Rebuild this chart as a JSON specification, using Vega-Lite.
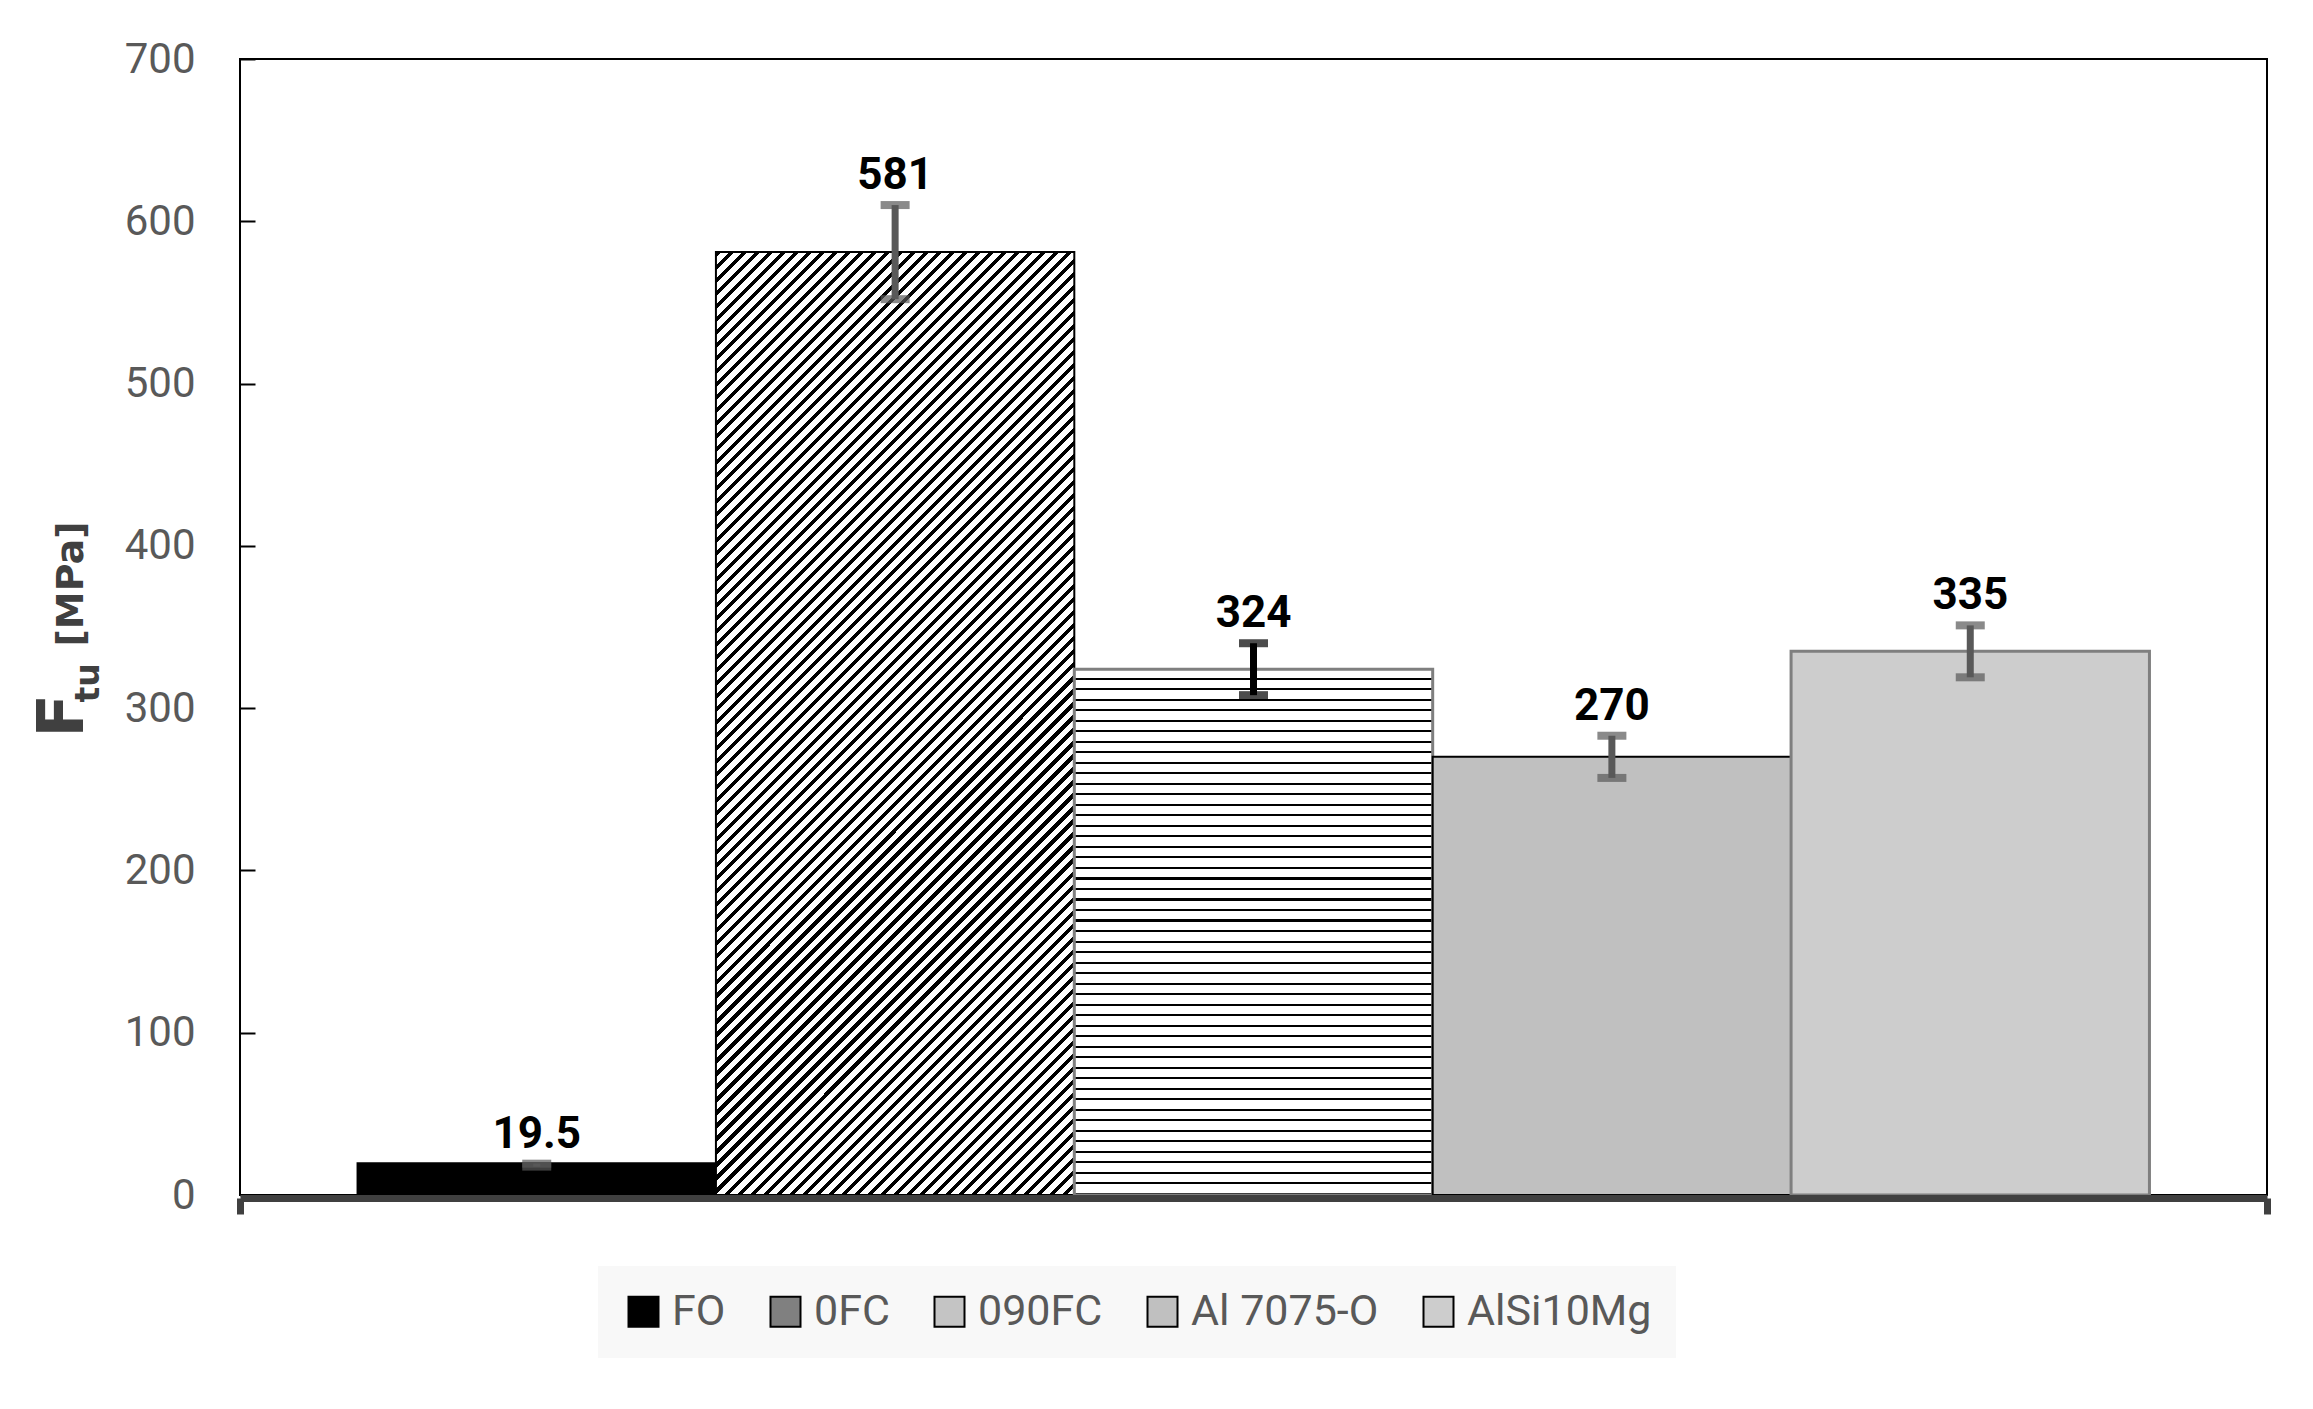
{
"$schema": "https://vega.github.io/schema/vega-lite/v6.json",
"width": 2027,
"height": 1136,
"autosize": {"type": "none"},
"padding": {"left": 240, "top": 59, "right": 46, "bottom": 214},
"background": "white",
"config": {"font": "Roboto", "axis": {"grid": false}, "view": {"stroke": "#000", "strokeWidth": 2}},
"data": {"values": [
{"cat": "A", "series": "FO", "value": 19.5, "lower": 17.5, "upper": 19.3},
{"cat": "A", "series": "0FC", "value": 581, "lower": 552, "upper": 610},
{"cat": "A", "series": "090FC", "value": 324, "lower": 308, "upper": 340},
{"cat": "A", "series": "Al 7075-O", "value": 270, "lower": 257, "upper": 283},
{"cat": "A", "series": "AlSi10Mg", "value": 335, "lower": 319, "upper": 351}
]},
"encoding": {
"x": {"field": "cat", "type": "nominal", "title": null, "scale": {"paddingInner": 0, "paddingOuter": 0},
 "axis": {"labels": false, "title": null, "domainColor": "#404040", "domainWidth": 7, "tickColor": "#404040", "tickWidth": 7, "tickSize": 16, "tickBand": "extent", "offset": 3, "zindex": 1}},
"xOffset": {"field": "series", "type": "nominal", "sort": ["FO", "0FC", "090FC", "Al 7075-O", "AlSi10Mg"], "scale": {"paddingInner": 0, "paddingOuter": 0.328}}
},
"layer": [
{"mark": {"type": "bar"},
 "encoding": {
 "y": {"field": "value", "type": "quantitative", "scale": {"domain": [0, 700], "nice": false},
  "axis": {"orient": "left", "values": [0, 100, 200, 300, 400, 500, 600, 700], "domain": false, "ticks": true, "tickSize": -15, "tickColor": "#000", "tickWidth": 2, "labelFont": "Roboto", "labelFontSize": 42, "labelColor": "#595959", "labelPadding": 60, "title": "F", "titleFont": "DejaVu Sans", "titleFontSize": 64, "titleFontWeight": "bold", "titleColor": "#404040", "titleAngle": 270, "titleAlign": "left", "titleBaseline": "alphabetic", "titleX": -158, "titleY": 678}},
 "stroke": {"condition": {"test": "datum.series === '090FC' || datum.series === 'AlSi10Mg'", "value": "#7f7f7f"}, "value": "#000"},
 "strokeWidth": {"condition": {"test": "datum.series === '090FC' || datum.series === 'AlSi10Mg'", "value": 3}, "value": 2},
 "fill": {"field": "series", "type": "nominal",
  "scale": {"domain": ["FO", "0FC", "090FC", "Al 7075-O", "AlSi10Mg"], "range": ["#000000", "#808080", "#c4c4c4", "#c0c0c0", "#cdcdcd"]},
  "legend": {"orient": "none", "legendX": 358, "legendY": 1207, "direction": "horizontal", "title": null, "fillColor": "#f8f8f8", "padding": 24, "symbolType": "square", "symbolSize": 900, "symbolStrokeWidth": 2, "labelFont": "Roboto", "labelFontSize": 43, "labelColor": "#595959", "labelOffset": 7, "columnPadding": 38, "labelLimit": 400},
  "condition": [
   {"test": "datum.series === '0FC'", "value": {"gradient": "linear", "x1": 0, "y1": 0, "x2": 0.4584, "y2": 1.2059, "stops": [
{"offset":0,"color":"#000"},{"offset":0.004,"color":"#000"},{"offset":0.004,"color":"#fff"},{"offset":0.01,"color":"#fff"},
{"offset":0.01,"color":"#000"},{"offset":0.014,"color":"#000"},{"offset":0.014,"color":"#fff"},{"offset":0.02,"color":"#fff"},
{"offset":0.02,"color":"#000"},{"offset":0.024,"color":"#000"},{"offset":0.024,"color":"#fff"},{"offset":0.03,"color":"#fff"},
{"offset":0.03,"color":"#000"},{"offset":0.034,"color":"#000"},{"offset":0.034,"color":"#fff"},{"offset":0.04,"color":"#fff"},
{"offset":0.04,"color":"#000"},{"offset":0.044,"color":"#000"},{"offset":0.044,"color":"#fff"},{"offset":0.05,"color":"#fff"},
{"offset":0.05,"color":"#000"},{"offset":0.054,"color":"#000"},{"offset":0.054,"color":"#fff"},{"offset":0.06,"color":"#fff"},
{"offset":0.06,"color":"#000"},{"offset":0.064,"color":"#000"},{"offset":0.064,"color":"#fff"},{"offset":0.07,"color":"#fff"},
{"offset":0.07,"color":"#000"},{"offset":0.074,"color":"#000"},{"offset":0.074,"color":"#fff"},{"offset":0.08,"color":"#fff"},
{"offset":0.08,"color":"#000"},{"offset":0.084,"color":"#000"},{"offset":0.084,"color":"#fff"},{"offset":0.09,"color":"#fff"},
{"offset":0.09,"color":"#000"},{"offset":0.094,"color":"#000"},{"offset":0.094,"color":"#fff"},{"offset":0.1,"color":"#fff"},
{"offset":0.1,"color":"#000"},{"offset":0.104,"color":"#000"},{"offset":0.104,"color":"#fff"},{"offset":0.11,"color":"#fff"},
{"offset":0.11,"color":"#000"},{"offset":0.114,"color":"#000"},{"offset":0.114,"color":"#fff"},{"offset":0.12,"color":"#fff"},
{"offset":0.12,"color":"#000"},{"offset":0.124,"color":"#000"},{"offset":0.124,"color":"#fff"},{"offset":0.13,"color":"#fff"},
{"offset":0.13,"color":"#000"},{"offset":0.134,"color":"#000"},{"offset":0.134,"color":"#fff"},{"offset":0.14,"color":"#fff"},
{"offset":0.14,"color":"#000"},{"offset":0.144,"color":"#000"},{"offset":0.144,"color":"#fff"},{"offset":0.15,"color":"#fff"},
{"offset":0.15,"color":"#000"},{"offset":0.154,"color":"#000"},{"offset":0.154,"color":"#fff"},{"offset":0.16,"color":"#fff"},
{"offset":0.16,"color":"#000"},{"offset":0.164,"color":"#000"},{"offset":0.164,"color":"#fff"},{"offset":0.17,"color":"#fff"},
{"offset":0.17,"color":"#000"},{"offset":0.174,"color":"#000"},{"offset":0.174,"color":"#fff"},{"offset":0.18,"color":"#fff"},
{"offset":0.18,"color":"#000"},{"offset":0.184,"color":"#000"},{"offset":0.184,"color":"#fff"},{"offset":0.19,"color":"#fff"},
{"offset":0.19,"color":"#000"},{"offset":0.194,"color":"#000"},{"offset":0.194,"color":"#fff"},{"offset":0.2,"color":"#fff"},
{"offset":0.2,"color":"#000"},{"offset":0.204,"color":"#000"},{"offset":0.204,"color":"#fff"},{"offset":0.21,"color":"#fff"},
{"offset":0.21,"color":"#000"},{"offset":0.214,"color":"#000"},{"offset":0.214,"color":"#fff"},{"offset":0.22,"color":"#fff"},
{"offset":0.22,"color":"#000"},{"offset":0.224,"color":"#000"},{"offset":0.224,"color":"#fff"},{"offset":0.23,"color":"#fff"},
{"offset":0.23,"color":"#000"},{"offset":0.234,"color":"#000"},{"offset":0.234,"color":"#fff"},{"offset":0.24,"color":"#fff"},
{"offset":0.24,"color":"#000"},{"offset":0.244,"color":"#000"},{"offset":0.244,"color":"#fff"},{"offset":0.25,"color":"#fff"},
{"offset":0.25,"color":"#000"},{"offset":0.254,"color":"#000"},{"offset":0.254,"color":"#fff"},{"offset":0.26,"color":"#fff"},
{"offset":0.26,"color":"#000"},{"offset":0.264,"color":"#000"},{"offset":0.264,"color":"#fff"},{"offset":0.27,"color":"#fff"},
{"offset":0.27,"color":"#000"},{"offset":0.274,"color":"#000"},{"offset":0.274,"color":"#fff"},{"offset":0.28,"color":"#fff"},
{"offset":0.28,"color":"#000"},{"offset":0.284,"color":"#000"},{"offset":0.284,"color":"#fff"},{"offset":0.29,"color":"#fff"},
{"offset":0.29,"color":"#000"},{"offset":0.294,"color":"#000"},{"offset":0.294,"color":"#fff"},{"offset":0.3,"color":"#fff"},
{"offset":0.3,"color":"#000"},{"offset":0.304,"color":"#000"},{"offset":0.304,"color":"#fff"},{"offset":0.31,"color":"#fff"},
{"offset":0.31,"color":"#000"},{"offset":0.314,"color":"#000"},{"offset":0.314,"color":"#fff"},{"offset":0.32,"color":"#fff"},
{"offset":0.32,"color":"#000"},{"offset":0.324,"color":"#000"},{"offset":0.324,"color":"#fff"},{"offset":0.33,"color":"#fff"},
{"offset":0.33,"color":"#000"},{"offset":0.334,"color":"#000"},{"offset":0.334,"color":"#fff"},{"offset":0.34,"color":"#fff"},
{"offset":0.34,"color":"#000"},{"offset":0.344,"color":"#000"},{"offset":0.344,"color":"#fff"},{"offset":0.35,"color":"#fff"},
{"offset":0.35,"color":"#000"},{"offset":0.354,"color":"#000"},{"offset":0.354,"color":"#fff"},{"offset":0.36,"color":"#fff"},
{"offset":0.36,"color":"#000"},{"offset":0.364,"color":"#000"},{"offset":0.364,"color":"#fff"},{"offset":0.37,"color":"#fff"},
{"offset":0.37,"color":"#000"},{"offset":0.374,"color":"#000"},{"offset":0.374,"color":"#fff"},{"offset":0.38,"color":"#fff"},
{"offset":0.38,"color":"#000"},{"offset":0.384,"color":"#000"},{"offset":0.384,"color":"#fff"},{"offset":0.39,"color":"#fff"},
{"offset":0.39,"color":"#000"},{"offset":0.394,"color":"#000"},{"offset":0.394,"color":"#fff"},{"offset":0.4,"color":"#fff"},
{"offset":0.4,"color":"#000"},{"offset":0.404,"color":"#000"},{"offset":0.404,"color":"#fff"},{"offset":0.41,"color":"#fff"},
{"offset":0.41,"color":"#000"},{"offset":0.414,"color":"#000"},{"offset":0.414,"color":"#fff"},{"offset":0.42,"color":"#fff"},
{"offset":0.42,"color":"#000"},{"offset":0.424,"color":"#000"},{"offset":0.424,"color":"#fff"},{"offset":0.43,"color":"#fff"},
{"offset":0.43,"color":"#000"},{"offset":0.434,"color":"#000"},{"offset":0.434,"color":"#fff"},{"offset":0.44,"color":"#fff"},
{"offset":0.44,"color":"#000"},{"offset":0.444,"color":"#000"},{"offset":0.444,"color":"#fff"},{"offset":0.45,"color":"#fff"},
{"offset":0.45,"color":"#000"},{"offset":0.454,"color":"#000"},{"offset":0.454,"color":"#fff"},{"offset":0.46,"color":"#fff"},
{"offset":0.46,"color":"#000"},{"offset":0.464,"color":"#000"},{"offset":0.464,"color":"#fff"},{"offset":0.47,"color":"#fff"},
{"offset":0.47,"color":"#000"},{"offset":0.474,"color":"#000"},{"offset":0.474,"color":"#fff"},{"offset":0.48,"color":"#fff"},
{"offset":0.48,"color":"#000"},{"offset":0.484,"color":"#000"},{"offset":0.484,"color":"#fff"},{"offset":0.49,"color":"#fff"},
{"offset":0.49,"color":"#000"},{"offset":0.494,"color":"#000"},{"offset":0.494,"color":"#fff"},{"offset":0.5,"color":"#fff"},
{"offset":0.5,"color":"#000"},{"offset":0.504,"color":"#000"},{"offset":0.504,"color":"#fff"},{"offset":0.51,"color":"#fff"},
{"offset":0.51,"color":"#000"},{"offset":0.514,"color":"#000"},{"offset":0.514,"color":"#fff"},{"offset":0.52,"color":"#fff"},
{"offset":0.52,"color":"#000"},{"offset":0.524,"color":"#000"},{"offset":0.524,"color":"#fff"},{"offset":0.53,"color":"#fff"},
{"offset":0.53,"color":"#000"},{"offset":0.534,"color":"#000"},{"offset":0.534,"color":"#fff"},{"offset":0.54,"color":"#fff"},
{"offset":0.54,"color":"#000"},{"offset":0.544,"color":"#000"},{"offset":0.544,"color":"#fff"},{"offset":0.55,"color":"#fff"},
{"offset":0.55,"color":"#000"},{"offset":0.554,"color":"#000"},{"offset":0.554,"color":"#fff"},{"offset":0.56,"color":"#fff"},
{"offset":0.56,"color":"#000"},{"offset":0.564,"color":"#000"},{"offset":0.564,"color":"#fff"},{"offset":0.57,"color":"#fff"},
{"offset":0.57,"color":"#000"},{"offset":0.574,"color":"#000"},{"offset":0.574,"color":"#fff"},{"offset":0.58,"color":"#fff"},
{"offset":0.58,"color":"#000"},{"offset":0.584,"color":"#000"},{"offset":0.584,"color":"#fff"},{"offset":0.59,"color":"#fff"},
{"offset":0.59,"color":"#000"},{"offset":0.594,"color":"#000"},{"offset":0.594,"color":"#fff"},{"offset":0.6,"color":"#fff"},
{"offset":0.6,"color":"#000"},{"offset":0.604,"color":"#000"},{"offset":0.604,"color":"#fff"},{"offset":0.61,"color":"#fff"},
{"offset":0.61,"color":"#000"},{"offset":0.614,"color":"#000"},{"offset":0.614,"color":"#fff"},{"offset":0.62,"color":"#fff"},
{"offset":0.62,"color":"#000"},{"offset":0.624,"color":"#000"},{"offset":0.624,"color":"#fff"},{"offset":0.63,"color":"#fff"},
{"offset":0.63,"color":"#000"},{"offset":0.634,"color":"#000"},{"offset":0.634,"color":"#fff"},{"offset":0.64,"color":"#fff"},
{"offset":0.64,"color":"#000"},{"offset":0.644,"color":"#000"},{"offset":0.644,"color":"#fff"},{"offset":0.65,"color":"#fff"},
{"offset":0.65,"color":"#000"},{"offset":0.654,"color":"#000"},{"offset":0.654,"color":"#fff"},{"offset":0.66,"color":"#fff"},
{"offset":0.66,"color":"#000"},{"offset":0.664,"color":"#000"},{"offset":0.664,"color":"#fff"},{"offset":0.67,"color":"#fff"},
{"offset":0.67,"color":"#000"},{"offset":0.674,"color":"#000"},{"offset":0.674,"color":"#fff"},{"offset":0.68,"color":"#fff"},
{"offset":0.68,"color":"#000"},{"offset":0.684,"color":"#000"},{"offset":0.684,"color":"#fff"},{"offset":0.69,"color":"#fff"},
{"offset":0.69,"color":"#000"},{"offset":0.694,"color":"#000"},{"offset":0.694,"color":"#fff"},{"offset":0.7,"color":"#fff"},
{"offset":0.7,"color":"#000"},{"offset":0.704,"color":"#000"},{"offset":0.704,"color":"#fff"},{"offset":0.71,"color":"#fff"},
{"offset":0.71,"color":"#000"},{"offset":0.714,"color":"#000"},{"offset":0.714,"color":"#fff"},{"offset":0.72,"color":"#fff"},
{"offset":0.72,"color":"#000"},{"offset":0.724,"color":"#000"},{"offset":0.724,"color":"#fff"},{"offset":0.73,"color":"#fff"},
{"offset":0.73,"color":"#000"},{"offset":0.734,"color":"#000"},{"offset":0.734,"color":"#fff"},{"offset":0.74,"color":"#fff"},
{"offset":0.74,"color":"#000"},{"offset":0.744,"color":"#000"},{"offset":0.744,"color":"#fff"},{"offset":0.75,"color":"#fff"},
{"offset":0.75,"color":"#000"},{"offset":0.754,"color":"#000"},{"offset":0.754,"color":"#fff"},{"offset":0.76,"color":"#fff"},
{"offset":0.76,"color":"#000"},{"offset":0.764,"color":"#000"},{"offset":0.764,"color":"#fff"},{"offset":0.77,"color":"#fff"},
{"offset":0.77,"color":"#000"},{"offset":0.774,"color":"#000"},{"offset":0.774,"color":"#fff"},{"offset":0.78,"color":"#fff"},
{"offset":0.78,"color":"#000"},{"offset":0.784,"color":"#000"},{"offset":0.784,"color":"#fff"},{"offset":0.79,"color":"#fff"},
{"offset":0.79,"color":"#000"},{"offset":0.794,"color":"#000"},{"offset":0.794,"color":"#fff"},{"offset":0.8,"color":"#fff"},
{"offset":0.8,"color":"#000"},{"offset":0.804,"color":"#000"},{"offset":0.804,"color":"#fff"},{"offset":0.81,"color":"#fff"},
{"offset":0.81,"color":"#000"},{"offset":0.814,"color":"#000"},{"offset":0.814,"color":"#fff"},{"offset":0.82,"color":"#fff"},
{"offset":0.82,"color":"#000"},{"offset":0.824,"color":"#000"},{"offset":0.824,"color":"#fff"},{"offset":0.83,"color":"#fff"},
{"offset":0.83,"color":"#000"},{"offset":0.834,"color":"#000"},{"offset":0.834,"color":"#fff"},{"offset":0.84,"color":"#fff"},
{"offset":0.84,"color":"#000"},{"offset":0.844,"color":"#000"},{"offset":0.844,"color":"#fff"},{"offset":0.85,"color":"#fff"},
{"offset":0.85,"color":"#000"},{"offset":0.854,"color":"#000"},{"offset":0.854,"color":"#fff"},{"offset":0.86,"color":"#fff"},
{"offset":0.86,"color":"#000"},{"offset":0.864,"color":"#000"},{"offset":0.864,"color":"#fff"},{"offset":0.87,"color":"#fff"},
{"offset":0.87,"color":"#000"},{"offset":0.874,"color":"#000"},{"offset":0.874,"color":"#fff"},{"offset":0.88,"color":"#fff"},
{"offset":0.88,"color":"#000"},{"offset":0.884,"color":"#000"},{"offset":0.884,"color":"#fff"},{"offset":0.89,"color":"#fff"},
{"offset":0.89,"color":"#000"},{"offset":0.894,"color":"#000"},{"offset":0.894,"color":"#fff"},{"offset":0.9,"color":"#fff"},
{"offset":0.9,"color":"#000"},{"offset":0.904,"color":"#000"},{"offset":0.904,"color":"#fff"},{"offset":0.91,"color":"#fff"},
{"offset":0.91,"color":"#000"},{"offset":0.914,"color":"#000"},{"offset":0.914,"color":"#fff"},{"offset":0.92,"color":"#fff"},
{"offset":0.92,"color":"#000"},{"offset":0.924,"color":"#000"},{"offset":0.924,"color":"#fff"},{"offset":0.93,"color":"#fff"},
{"offset":0.93,"color":"#000"},{"offset":0.934,"color":"#000"},{"offset":0.934,"color":"#fff"},{"offset":0.94,"color":"#fff"},
{"offset":0.94,"color":"#000"},{"offset":0.944,"color":"#000"},{"offset":0.944,"color":"#fff"},{"offset":0.95,"color":"#fff"},
{"offset":0.95,"color":"#000"},{"offset":0.954,"color":"#000"},{"offset":0.954,"color":"#fff"},{"offset":0.96,"color":"#fff"},
{"offset":0.96,"color":"#000"},{"offset":0.964,"color":"#000"},{"offset":0.964,"color":"#fff"},{"offset":0.97,"color":"#fff"},
{"offset":0.97,"color":"#000"},{"offset":0.974,"color":"#000"},{"offset":0.974,"color":"#fff"},{"offset":0.98,"color":"#fff"},
{"offset":0.98,"color":"#000"},{"offset":0.984,"color":"#000"},{"offset":0.984,"color":"#fff"},{"offset":0.99,"color":"#fff"},
{"offset":0.99,"color":"#000"},{"offset":0.994,"color":"#000"},{"offset":0.994,"color":"#fff"},{"offset":1,"color":"#fff"}
   ]}},
   {"test": "datum.series === '090FC'", "value": {"gradient": "linear", "x1": 0.5, "y1": 0, "x2": 0.5, "y2": 1, "stops": [
{"offset":0,"color":"#fff"},
{"offset":0.016,"color":"#fff"},{"offset":0.016,"color":"#000"},{"offset":0.02,"color":"#000"},{"offset":0.02,"color":"#fff"},
{"offset":0.036,"color":"#fff"},{"offset":0.036,"color":"#000"},{"offset":0.04,"color":"#000"},{"offset":0.04,"color":"#fff"},
{"offset":0.056,"color":"#fff"},{"offset":0.056,"color":"#000"},{"offset":0.06,"color":"#000"},{"offset":0.06,"color":"#fff"},
{"offset":0.076,"color":"#fff"},{"offset":0.076,"color":"#000"},{"offset":0.08,"color":"#000"},{"offset":0.08,"color":"#fff"},
{"offset":0.096,"color":"#fff"},{"offset":0.096,"color":"#000"},{"offset":0.1,"color":"#000"},{"offset":0.1,"color":"#fff"},
{"offset":0.116,"color":"#fff"},{"offset":0.116,"color":"#000"},{"offset":0.12,"color":"#000"},{"offset":0.12,"color":"#fff"},
{"offset":0.136,"color":"#fff"},{"offset":0.136,"color":"#000"},{"offset":0.14,"color":"#000"},{"offset":0.14,"color":"#fff"},
{"offset":0.156,"color":"#fff"},{"offset":0.156,"color":"#000"},{"offset":0.16,"color":"#000"},{"offset":0.16,"color":"#fff"},
{"offset":0.176,"color":"#fff"},{"offset":0.176,"color":"#000"},{"offset":0.18,"color":"#000"},{"offset":0.18,"color":"#fff"},
{"offset":0.196,"color":"#fff"},{"offset":0.196,"color":"#000"},{"offset":0.2,"color":"#000"},{"offset":0.2,"color":"#fff"},
{"offset":0.216,"color":"#fff"},{"offset":0.216,"color":"#000"},{"offset":0.22,"color":"#000"},{"offset":0.22,"color":"#fff"},
{"offset":0.236,"color":"#fff"},{"offset":0.236,"color":"#000"},{"offset":0.24,"color":"#000"},{"offset":0.24,"color":"#fff"},
{"offset":0.256,"color":"#fff"},{"offset":0.256,"color":"#000"},{"offset":0.26,"color":"#000"},{"offset":0.26,"color":"#fff"},
{"offset":0.276,"color":"#fff"},{"offset":0.276,"color":"#000"},{"offset":0.28,"color":"#000"},{"offset":0.28,"color":"#fff"},
{"offset":0.296,"color":"#fff"},{"offset":0.296,"color":"#000"},{"offset":0.3,"color":"#000"},{"offset":0.3,"color":"#fff"},
{"offset":0.316,"color":"#fff"},{"offset":0.316,"color":"#000"},{"offset":0.32,"color":"#000"},{"offset":0.32,"color":"#fff"},
{"offset":0.336,"color":"#fff"},{"offset":0.336,"color":"#000"},{"offset":0.34,"color":"#000"},{"offset":0.34,"color":"#fff"},
{"offset":0.356,"color":"#fff"},{"offset":0.356,"color":"#000"},{"offset":0.36,"color":"#000"},{"offset":0.36,"color":"#fff"},
{"offset":0.376,"color":"#fff"},{"offset":0.376,"color":"#000"},{"offset":0.38,"color":"#000"},{"offset":0.38,"color":"#fff"},
{"offset":0.396,"color":"#fff"},{"offset":0.396,"color":"#000"},{"offset":0.4,"color":"#000"},{"offset":0.4,"color":"#fff"},
{"offset":0.416,"color":"#fff"},{"offset":0.416,"color":"#000"},{"offset":0.42,"color":"#000"},{"offset":0.42,"color":"#fff"},
{"offset":0.436,"color":"#fff"},{"offset":0.436,"color":"#000"},{"offset":0.44,"color":"#000"},{"offset":0.44,"color":"#fff"},
{"offset":0.456,"color":"#fff"},{"offset":0.456,"color":"#000"},{"offset":0.46,"color":"#000"},{"offset":0.46,"color":"#fff"},
{"offset":0.476,"color":"#fff"},{"offset":0.476,"color":"#000"},{"offset":0.48,"color":"#000"},{"offset":0.48,"color":"#fff"},
{"offset":0.496,"color":"#fff"},{"offset":0.496,"color":"#000"},{"offset":0.5,"color":"#000"},{"offset":0.5,"color":"#fff"},
{"offset":0.516,"color":"#fff"},{"offset":0.516,"color":"#000"},{"offset":0.52,"color":"#000"},{"offset":0.52,"color":"#fff"},
{"offset":0.536,"color":"#fff"},{"offset":0.536,"color":"#000"},{"offset":0.54,"color":"#000"},{"offset":0.54,"color":"#fff"},
{"offset":0.556,"color":"#fff"},{"offset":0.556,"color":"#000"},{"offset":0.56,"color":"#000"},{"offset":0.56,"color":"#fff"},
{"offset":0.576,"color":"#fff"},{"offset":0.576,"color":"#000"},{"offset":0.58,"color":"#000"},{"offset":0.58,"color":"#fff"},
{"offset":0.596,"color":"#fff"},{"offset":0.596,"color":"#000"},{"offset":0.6,"color":"#000"},{"offset":0.6,"color":"#fff"},
{"offset":0.616,"color":"#fff"},{"offset":0.616,"color":"#000"},{"offset":0.62,"color":"#000"},{"offset":0.62,"color":"#fff"},
{"offset":0.636,"color":"#fff"},{"offset":0.636,"color":"#000"},{"offset":0.64,"color":"#000"},{"offset":0.64,"color":"#fff"},
{"offset":0.656,"color":"#fff"},{"offset":0.656,"color":"#000"},{"offset":0.66,"color":"#000"},{"offset":0.66,"color":"#fff"},
{"offset":0.676,"color":"#fff"},{"offset":0.676,"color":"#000"},{"offset":0.68,"color":"#000"},{"offset":0.68,"color":"#fff"},
{"offset":0.696,"color":"#fff"},{"offset":0.696,"color":"#000"},{"offset":0.7,"color":"#000"},{"offset":0.7,"color":"#fff"},
{"offset":0.716,"color":"#fff"},{"offset":0.716,"color":"#000"},{"offset":0.72,"color":"#000"},{"offset":0.72,"color":"#fff"},
{"offset":0.736,"color":"#fff"},{"offset":0.736,"color":"#000"},{"offset":0.74,"color":"#000"},{"offset":0.74,"color":"#fff"},
{"offset":0.756,"color":"#fff"},{"offset":0.756,"color":"#000"},{"offset":0.76,"color":"#000"},{"offset":0.76,"color":"#fff"},
{"offset":0.776,"color":"#fff"},{"offset":0.776,"color":"#000"},{"offset":0.78,"color":"#000"},{"offset":0.78,"color":"#fff"},
{"offset":0.796,"color":"#fff"},{"offset":0.796,"color":"#000"},{"offset":0.8,"color":"#000"},{"offset":0.8,"color":"#fff"},
{"offset":0.816,"color":"#fff"},{"offset":0.816,"color":"#000"},{"offset":0.82,"color":"#000"},{"offset":0.82,"color":"#fff"},
{"offset":0.836,"color":"#fff"},{"offset":0.836,"color":"#000"},{"offset":0.84,"color":"#000"},{"offset":0.84,"color":"#fff"},
{"offset":0.856,"color":"#fff"},{"offset":0.856,"color":"#000"},{"offset":0.86,"color":"#000"},{"offset":0.86,"color":"#fff"},
{"offset":0.876,"color":"#fff"},{"offset":0.876,"color":"#000"},{"offset":0.88,"color":"#000"},{"offset":0.88,"color":"#fff"},
{"offset":0.896,"color":"#fff"},{"offset":0.896,"color":"#000"},{"offset":0.9,"color":"#000"},{"offset":0.9,"color":"#fff"},
{"offset":0.916,"color":"#fff"},{"offset":0.916,"color":"#000"},{"offset":0.92,"color":"#000"},{"offset":0.92,"color":"#fff"},
{"offset":0.936,"color":"#fff"},{"offset":0.936,"color":"#000"},{"offset":0.94,"color":"#000"},{"offset":0.94,"color":"#fff"},
{"offset":0.956,"color":"#fff"},{"offset":0.956,"color":"#000"},{"offset":0.96,"color":"#000"},{"offset":0.96,"color":"#fff"},
{"offset":0.976,"color":"#fff"},{"offset":0.976,"color":"#000"},{"offset":0.98,"color":"#000"},{"offset":0.98,"color":"#fff"},
{"offset":0.996,"color":"#fff"},{"offset":0.996,"color":"#000"},{"offset":1,"color":"#000"}
   ]}}
  ]}
 }},
{"mark": {"type": "rule", "strokeWidth": 7},
 "encoding": {
 "y": {"field": "lower", "type": "quantitative", "scale": {"domain": [0, 700], "nice": false},
  "axis": {"orient": "left", "labels": false, "ticks": false, "domain": false, "title": "tu", "titleFont": "DejaVu Sans", "titleFontSize": 33, "titleFontWeight": "bold", "titleColor": "#404040", "titleAngle": 270, "titleAlign": "left", "titleBaseline": "alphabetic", "titleX": -142, "titleY": 643}},
 "y2": {"field": "upper"},
 "color": {"condition": {"test": "datum.series === '090FC'", "value": "#000"}, "value": "#595959"}
 }},
{"mark": {"type": "tick", "orient": "horizontal", "size": 29, "thickness": 8},
 "encoding": {
 "y": {"field": "upper", "type": "quantitative", "scale": {"domain": [0, 700], "nice": false}, "axis": null},
 "color": {"condition": {"test": "datum.series === '090FC'", "value": "#000"}, "value": "#595959"}
 }},
{"mark": {"type": "tick", "orient": "horizontal", "size": 29, "thickness": 8},
 "encoding": {
 "y": {"field": "lower", "type": "quantitative", "scale": {"domain": [0, 700], "nice": false}, "axis": null},
 "color": {"condition": {"test": "datum.series === '090FC'", "value": "#000"}, "value": "#595959"}
 }},
{"mark": {"type": "text", "baseline": "alphabetic", "align": "center", "dy": -16, "font": "Roboto", "fontWeight": "bold", "fontSize": 44, "color": "#000"},
 "encoding": {
 "y": {"field": "upper", "type": "quantitative", "scale": {"domain": [0, 700], "nice": false},
  "axis": {"orient": "left", "labels": false, "ticks": false, "domain": false, "title": "[MPa]", "titleFont": "DejaVu Sans", "titleFontSize": 38, "titleFontWeight": "bold", "titleColor": "#404040", "titleAngle": 270, "titleAlign": "left", "titleBaseline": "alphabetic", "titleX": -158, "titleY": 587}},
 "text": {"field": "value", "type": "quantitative"}
 }}
],
"resolve": {"axis": {"y": "independent"}}
}
